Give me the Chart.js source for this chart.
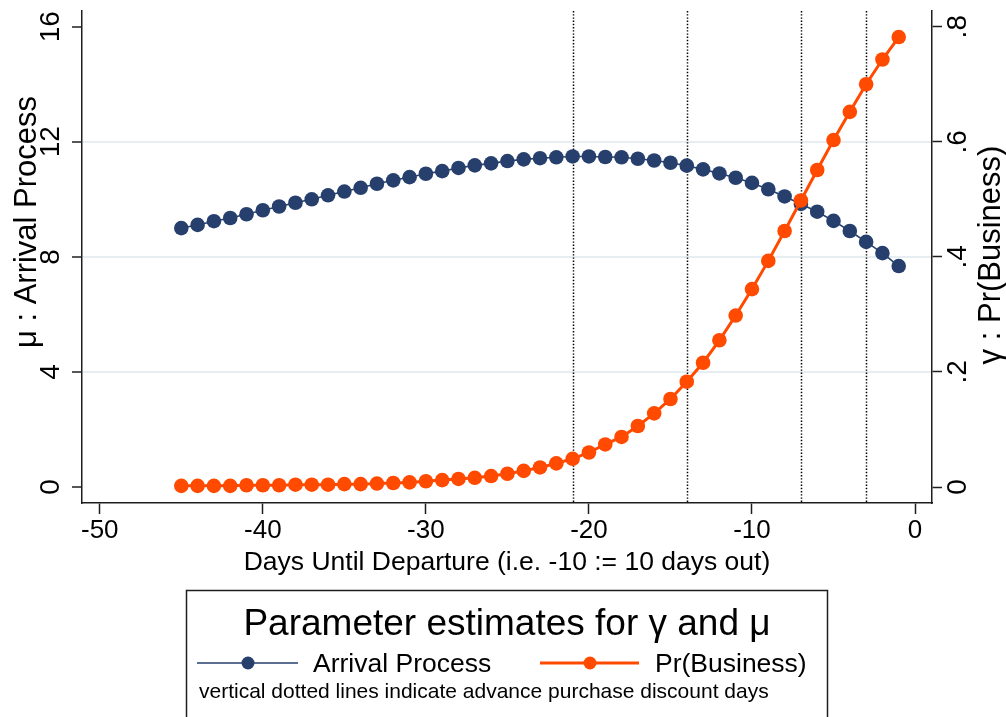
<!DOCTYPE html>
<html>
<head>
<meta charset="utf-8">
<script src="https://cdn.jsdelivr.net/npm/chart.js@4.4.1/dist/chart.umd.min.js"></script>
<style>
  html, body { margin: 0; padding: 0; background: #ffffff; }
  #wrap { position: relative; width: 1006px; height: 717px; }
</style>
</head>
<body>
<div id="wrap"><canvas id="chart" width="1006" height="717"></canvas></div>
<script>
// Days before departure (x) and the two estimated parameter series
const days = [-45, -44, -43, -42, -41, -40, -39, -38, -37, -36, -35, -34, -33, -32, -31,
              -30, -29, -28, -27, -26, -25, -24, -23, -22, -21, -20, -19, -18, -17, -16,
              -15, -14, -13, -12, -11, -10, -9, -8, -7, -6, -5, -4, -3, -2, -1];

// μ : arrival process (left axis)
const arrivalMu = [9.00, 9.11, 9.24, 9.35, 9.48, 9.62, 9.75, 9.88, 10.00, 10.14, 10.27, 10.40, 10.54, 10.66, 10.77,
                   10.89, 10.98, 11.09, 11.18, 11.25, 11.33, 11.39, 11.43, 11.46, 11.49, 11.49, 11.47, 11.46, 11.41, 11.35,
                   11.27, 11.17, 11.04, 10.90, 10.75, 10.57, 10.35, 10.10, 9.84, 9.57, 9.25, 8.90, 8.52, 8.13, 7.68];

// γ : probability a traveller is business (right axis)
const probBusiness = [0.002, 0.002, 0.002, 0.002, 0.003, 0.003, 0.003, 0.004, 0.004, 0.004, 0.005, 0.005, 0.006, 0.007, 0.008,
                      0.010, 0.012, 0.014, 0.016, 0.019, 0.023, 0.028, 0.034, 0.041, 0.049, 0.060, 0.074, 0.087, 0.106, 0.128,
                      0.153, 0.183, 0.216, 0.255, 0.298, 0.344, 0.393, 0.445, 0.498, 0.551, 0.603, 0.652, 0.700, 0.743, 0.782];

// Advance purchase discount days (vertical dotted lines)
const discountDays = [-21, -14, -7, -3];

// Tick values and labels
const xTickValues = [-50, -40, -30, -20, -10, 0];
const muTickValues = [0, 4, 8, 12, 16];
const muTickLabels = ['0', '4', '8', '12', '16'];
const muGridValues = [4, 8, 12];
const gammaTickValues = [0, 0.2, 0.4, 0.6, 0.8];
const gammaTickLabels = ['0', '.2', '.4', '.6', '.8'];

const FONT = '"Liberation Sans", Arial, Helvetica, sans-serif';
const NAVY = '#263f6d';
const ORANGE = '#ff4a00';
const AXIS = '#1e1e1e';

const toPoints = (ys) => days.map((d, i) => ({ x: d, y: ys[i] }));

function rotatedText(ctx, text, x, y, font) {
  ctx.save();
  ctx.font = font;
  ctx.fillStyle = '#000';
  ctx.translate(x, y);
  ctx.rotate(-Math.PI / 2);
  ctx.textAlign = 'center';
  ctx.textBaseline = 'middle';
  ctx.fillText(text, 0, 0);
  ctx.restore();
}

// Dotted reference lines at the discount days, behind the series
const discountLines = {
  id: 'discountLines',
  beforeDatasetsDraw(chart) {
    const { ctx, chartArea, scales } = chart;
    ctx.save();
    ctx.strokeStyle = '#000';
    ctx.lineWidth = 1.5;
    ctx.setLineDash([1.4, 1.8]);
    discountDays.forEach((d) => {
      const px = Math.round(scales.x.getPixelForValue(d)) + 0.5;
      ctx.beginPath();
      ctx.moveTo(px, chartArea.top);
      ctx.lineTo(px, chartArea.bottom);
      ctx.stroke();
    });
    ctx.restore();
  }
};

// Rotated axis labels, axis titles and the boxed key underneath
const annotations = {
  id: 'annotations',
  afterDraw(chart) {
    const { ctx, scales } = chart;
    const y = scales.y, y1 = scales.y1;

    muTickValues.forEach((v, i) => rotatedText(ctx, muTickLabels[i], 51, y.getPixelForValue(v), '28px ' + FONT));
    gammaTickValues.forEach((v, i) => rotatedText(ctx, gammaTickLabels[i], 958, y1.getPixelForValue(v), '28px ' + FONT));

    rotatedText(ctx, 'μ : Arrival Process', 27, 222, '31px ' + FONT);
    rotatedText(ctx, 'γ : Pr(Business)', 991, 255, '31px ' + FONT);

    ctx.save();
    ctx.fillStyle = '#000';
    ctx.textAlign = 'center';
    ctx.textBaseline = 'alphabetic';
    ctx.font = '26.5px ' + FONT;
    ctx.fillText('Days Until Departure (i.e. -10 := 10 days out)', 507, 570);

    // key box
    ctx.strokeStyle = AXIS;
    ctx.lineWidth = 1.5;
    ctx.strokeRect(186.5, 590.5, 641, 140);

    ctx.font = '37px ' + FONT;
    ctx.fillText('Parameter estimates for γ and μ', 507, 635);

    const rowY = 663;
    // Arrival Process sample
    ctx.strokeStyle = NAVY;
    ctx.lineWidth = 1.5;
    ctx.beginPath(); ctx.moveTo(197, rowY); ctx.lineTo(298, rowY); ctx.stroke();
    ctx.fillStyle = NAVY;
    ctx.beginPath(); ctx.arc(248, rowY, 6.5, 0, Math.PI * 2); ctx.fill();
    // Pr(Business) sample
    ctx.strokeStyle = ORANGE;
    ctx.lineWidth = 3;
    ctx.beginPath(); ctx.moveTo(540, rowY); ctx.lineTo(639, rowY); ctx.stroke();
    ctx.fillStyle = ORANGE;
    ctx.beginPath(); ctx.arc(590, rowY, 6.5, 0, Math.PI * 2); ctx.fill();

    ctx.fillStyle = '#000';
    ctx.textAlign = 'left';
    ctx.font = '26.5px ' + FONT;
    ctx.fillText('Arrival Process', 313, rowY + 9);
    ctx.fillText('Pr(Business)', 655, rowY + 9);

    ctx.font = '21px ' + FONT;
    ctx.fillText('vertical dotted lines indicate advance purchase discount days', 199, 698);
    ctx.restore();
  }
};

new Chart(document.getElementById('chart'), {
  type: 'line',
  data: {
    datasets: [
      {
        label: 'Pr(Business)',
        data: toPoints(probBusiness),
        yAxisID: 'y1',
        borderColor: ORANGE,
        backgroundColor: ORANGE,
        borderWidth: 3,
        pointRadius: 7.3,
        pointBorderWidth: 0,
        pointHoverRadius: 7.3,
        tension: 0,
        order: 0
      },
      {
        label: 'Arrival Process',
        data: toPoints(arrivalMu),
        yAxisID: 'y',
        borderColor: NAVY,
        backgroundColor: NAVY,
        borderWidth: 1.6,
        pointRadius: 7.3,
        pointBorderWidth: 0,
        pointHoverRadius: 7.3,
        tension: 0,
        order: 1
      }
    ]
  },
  options: {
    responsive: false,
    animation: false,
    events: [],
    layout: { padding: { top: 11, left: 0, right: 0, bottom: 0 } },
    plugins: { legend: { display: false }, tooltip: { enabled: false } },
    scales: {
      x: {
        type: 'linear',
        position: 'bottom',
        min: -51.09,
        max: 1.04,
        afterBuildTicks: (s) => { s.ticks = xTickValues.map((v) => ({ value: v })); },
        afterFit: (s) => { s.height = 214; },
        grid: { drawOnChartArea: false, drawTicks: true, tickLength: 11, tickColor: AXIS, tickWidth: 1.5 },
        border: { display: true, color: AXIS, width: 1.5 },
        ticks: { color: '#000', font: { family: FONT, size: 26 }, padding: 1, maxRotation: 0, minRotation: 0 }
      },
      y: {
        type: 'linear',
        position: 'left',
        min: -0.556,
        max: 16.546,
        afterBuildTicks: (s) => { s.ticks = muTickValues.map((v) => ({ value: v })); },
        afterFit: (s) => { s.width = 82; },
        grid: {
          drawOnChartArea: true,
          drawTicks: true,
          tickLength: 10,
          lineWidth: 2,
          color: (c) => (c.tick && muGridValues.includes(c.tick.value) ? '#e7eef1' : 'rgba(0,0,0,0)'),
          tickColor: AXIS,
          tickWidth: 1.5
        },
        border: { display: true, color: AXIS, width: 1.5 },
        ticks: { display: false }
      },
      y1: {
        type: 'linear',
        position: 'right',
        min: -0.0278,
        max: 0.8273,
        afterBuildTicks: (s) => { s.ticks = gammaTickValues.map((v) => ({ value: v })); },
        afterFit: (s) => { s.width = 74; },
        grid: { drawOnChartArea: false, drawTicks: true, tickLength: 10, tickColor: AXIS, tickWidth: 1.5 },
        border: { display: true, color: AXIS, width: 1.5 },
        ticks: { display: false }
      }
    }
  },
  plugins: [discountLines, annotations]
});
</script>
</body>
</html>
